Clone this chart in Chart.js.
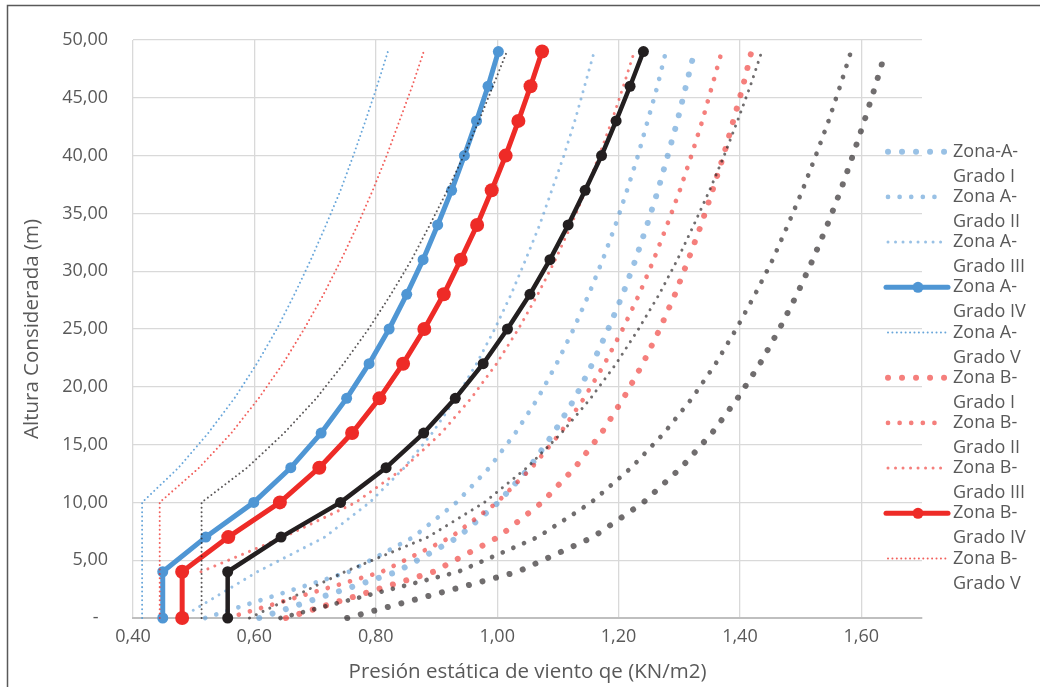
<!DOCTYPE html>
<html>
<head>
    <meta charset="utf-8">
    <title>Presión estática de viento</title>
    <script src="https://cdn.jsdelivr.net/npm/chart.js"></script>
    <style>
        body {
            margin: 0;
            background-color: #fff;
        }
        #chartContainer {
            position: relative;
            width: 1040px;
            height: 687px;
        }
    </style>
</head>
<body>
    <div id="chartContainer">
        <canvas id="vientoChart" width="1040" height="687"></canvas>
    </div>

    <script>
        // Alturas consideradas (m)
        const alturas = [0, 4, 7, 10, 13, 16, 19, 22, 25, 28, 31, 34, 37, 40, 43, 46, 49];
        // la serie Zona B-Grado III arranca en 4 m
        const alturasZonaBGradoIII = [4, 7, 10, 13, 16, 19, 22, 25, 28, 31, 34, 37, 40, 43, 46, 49];

        // Presión estática qe (KN/m2)
        const zonaAGradoI   = [0.608, 0.835, 0.936, 1.002, 1.053, 1.093, 1.128, 1.157, 1.183, 1.207, 1.228, 1.247, 1.265, 1.281, 1.297, 1.311, 1.325];
        const zonaAGradoII  = [0.519, 0.756, 0.862, 0.933, 0.987, 1.030, 1.067, 1.098, 1.126, 1.151, 1.174, 1.195, 1.214, 1.232, 1.248, 1.264, 1.278];
        const zonaAGradoIII = [0.478, 0.605, 0.716, 0.790, 0.847, 0.893, 0.932, 0.966, 0.996, 1.023, 1.047, 1.070, 1.090, 1.110, 1.128, 1.144, 1.160];
        const zonaAGradoIV  = [0.449, 0.449, 0.520, 0.599, 0.660, 0.710, 0.752, 0.789, 0.822, 0.851, 0.878, 0.902, 0.925, 0.946, 0.966, 0.985, 1.002];
        const zonaAGradoV   = [0.415, 0.415, 0.415, 0.415, 0.475, 0.524, 0.567, 0.604, 0.637, 0.666, 0.693, 0.718, 0.742, 0.763, 0.783, 0.802, 0.820];

        const zonaBGradoI   = [0.652, 0.895, 1.002, 1.074, 1.128, 1.172, 1.208, 1.240, 1.268, 1.293, 1.315, 1.336, 1.355, 1.373, 1.389, 1.405, 1.419];
        const zonaBGradoII  = [0.556, 0.810, 0.924, 1.000, 1.057, 1.104, 1.143, 1.177, 1.207, 1.234, 1.258, 1.280, 1.301, 1.320, 1.338, 1.354, 1.370];
        const zonaBGradoIII = [0.512, 0.648, 0.767, 0.847, 0.908, 0.957, 0.999, 1.035, 1.067, 1.096, 1.122, 1.146, 1.168, 1.189, 1.208, 1.226];
        const zonaBGradoIV  = [0.481, 0.481, 0.557, 0.642, 0.707, 0.761, 0.806, 0.845, 0.880, 0.912, 0.940, 0.967, 0.991, 1.014, 1.035, 1.055, 1.074];
        const zonaBGradoV   = [0.444, 0.444, 0.444, 0.444, 0.509, 0.562, 0.607, 0.647, 0.682, 0.714, 0.743, 0.770, 0.795, 0.818, 0.839, 0.860, 0.879];

        const zonaCGradoI   = [0.753, 1.034, 1.158, 1.241, 1.303, 1.354, 1.396, 1.433, 1.465, 1.494, 1.520, 1.544, 1.566, 1.586, 1.605, 1.623, 1.640];
        const zonaCGradoII  = [0.643, 0.936, 1.067, 1.155, 1.221, 1.275, 1.321, 1.360, 1.394, 1.425, 1.454, 1.479, 1.503, 1.525, 1.546, 1.565, 1.583];
        const zonaCGradoIII = [0.592, 0.749, 0.886, 0.979, 1.049, 1.106, 1.154, 1.196, 1.233, 1.267, 1.297, 1.324, 1.350, 1.374, 1.396, 1.417, 1.436];
        const zonaCGradoIV  = [0.556, 0.556, 0.644, 0.742, 0.817, 0.879, 0.931, 0.977, 1.017, 1.054, 1.087, 1.117, 1.145, 1.172, 1.196, 1.219, 1.241];
        const zonaCGradoV   = [0.513, 0.513, 0.513, 0.513, 0.588, 0.649, 0.702, 0.747, 0.788, 0.825, 0.859, 0.889, 0.918, 0.945, 0.970, 0.993, 1.016];

        const xTicks = [0.4, 0.6, 0.8, 1.0, 1.2, 1.4, 1.6];
        const yTicks = [0, 5, 10, 15, 20, 25, 30, 35, 40, 45, 50];

        const FONT = "'Open Sans', 'Noto Sans', sans-serif";
        const GRIS_TEXTO = '#595959';

        // tamaño de punto y paso del punteado por grado
        const estilos = {
            'I':   { width: 6,   period: 14 },
            'II':  { width: 4.7, period: 11.6 },
            'III': { width: 3,   period: 7.5 },
            'V':   { width: 2,   period: 4.4 }
        };

        function puntos(hs, vals) {
            return hs.map(function(h, i) { return { x: vals[i], y: h }; });
        }

        function punteada(label, hs, vals, color, grado) {
            const e = estilos[grado];
            return {
                label: label,
                data: puntos(hs, vals),
                showLine: true,
                borderColor: color,
                backgroundColor: color,
                borderWidth: e.width,
                borderDash: [0.01, e.period],
                borderCapStyle: 'round',
                borderJoinStyle: 'round',
                pointRadius: 0,
                pointHoverRadius: 0,
                tension: 0,
                clip: false,
                grado: grado
            };
        }

        function continua(label, vals, color, ancho, radio) {
            return {
                label: label,
                data: puntos(alturas, vals),
                showLine: true,
                borderColor: color,
                backgroundColor: color,
                borderWidth: ancho,
                borderCapStyle: 'round',
                borderJoinStyle: 'round',
                pointRadius: radio,
                pointHoverRadius: radio,
                pointBorderWidth: 0,
                pointBackgroundColor: color,
                tension: 0,
                clip: false,
                grado: 'IV'
            };
        }

        const azulClaro = 'rgba(91, 155, 213, 0.62)';
        const rojoClaro = 'rgba(238, 42, 36, 0.6)';
        const grisClaro = 'rgba(35, 31, 32, 0.65)';

        const datasets = [
            punteada('Zona-A-Grado I', alturas, zonaAGradoI, azulClaro, 'I'),
            punteada('Zona A-Grado II', alturas, zonaAGradoII, azulClaro, 'II'),
            punteada('Zona A-Grado III', alturas, zonaAGradoIII, azulClaro, 'III'),
            continua('Zona A-Grado IV', zonaAGradoIV, '#4f96d4', 5, 5.5),
            punteada('Zona A-Grado V', alturas, zonaAGradoV, 'rgba(79, 150, 212, 0.85)', 'V'),
            punteada('Zona B-Grado I', alturas, zonaBGradoI, rojoClaro, 'I'),
            punteada('Zona B-Grado II', alturas, zonaBGradoII, rojoClaro, 'II'),
            punteada('Zona B-Grado III', alturasZonaBGradoIII, zonaBGradoIII, rojoClaro, 'III'),
            continua('Zona B-Grado IV', zonaBGradoIV, '#ee2b27', 5, 7),
            punteada('Zona B-Grado V', alturas, zonaBGradoV, 'rgba(238, 42, 36, 0.75)', 'V'),
            punteada('Zona C-Grado I', alturas, zonaCGradoI, grisClaro, 'I'),
            punteada('Zona C-Grado II', alturas, zonaCGradoII, grisClaro, 'II'),
            punteada('Zona C-Grado III', alturas, zonaCGradoIII, grisClaro, 'III'),
            continua('Zona C-Grado IV', zonaCGradoIV, '#231f20', 4.5, 5.5),
            punteada('Zona C-Grado V', alturas, zonaCGradoV, 'rgba(35, 31, 32, 0.75)', 'V')
        ];
        // como en Excel: la última serie queda encima
        datasets.forEach(function(d, i) { d.order = datasets.length - i; });

        function coma(v) {
            return v.toFixed(2).replace('.', ',');
        }

        // leyenda a la derecha, cortada abajo como en el original
        const leyendaLateral = {
            id: 'leyendaLateral',
            afterDraw: function(chart) {
                const ctx = chart.ctx;
                const x0 = chart.width - 154;
                const xTexto = chart.width - 87;
                const limite = chart.height - 82;
                let y = 151.7;
                ctx.save();
                ctx.font = '18px ' + FONT;
                ctx.textBaseline = 'middle';
                ctx.textAlign = 'left';
                chart.data.datasets.forEach(function(ds) {
                    if (y + 25 + 10 > limite) { y += 45.2; return; }
                    ctx.save();
                    ctx.strokeStyle = ds.borderColor;
                    ctx.lineWidth = ds.borderWidth;
                    ctx.lineCap = 'round';
                    ctx.beginPath();
                    if (ds.grado === 'IV') {
                        ctx.setLineDash([]);
                        ctx.moveTo(x0, y);
                        ctx.lineTo(x0 + 62, y);
                        ctx.stroke();
                        ctx.fillStyle = ds.borderColor;
                        ctx.beginPath();
                        ctx.arc(x0 + 32, y, 5.5, 0, Math.PI * 2);
                        ctx.fill();
                    } else {
                        ctx.setLineDash([0.01, ds.borderDash[1]]);
                        ctx.moveTo(x0 + 2, y);
                        ctx.lineTo(x0 + 60, y);
                        ctx.stroke();
                    }
                    ctx.restore();
                    const k = ds.label.indexOf('Grado');
                    ctx.fillStyle = GRIS_TEXTO;
                    ctx.fillText(ds.label.slice(0, k), xTexto, y);
                    ctx.fillText(ds.label.slice(k), xTexto, y + 25);
                    y += 45.2;
                });
                ctx.restore();
            }
        };

        // marco del gráfico
        const marco = {
            id: 'marco',
            afterDraw: function(chart) {
                const ctx = chart.ctx;
                ctx.save();
                ctx.strokeStyle = '#595959';
                ctx.lineWidth = 1.5;
                ctx.strokeRect(7.5, 5.5, chart.width + 20, chart.height + 20);
                ctx.restore();
            }
        };

        Chart.defaults.font.family = FONT;
        Chart.defaults.color = GRIS_TEXTO;

        const ctx = document.getElementById('vientoChart').getContext('2d');
        const vientoChart = new Chart(ctx, {
            type: 'scatter',
            data: { datasets: datasets },
            options: {
                responsive: false,
                animation: false,
                events: [],
                layout: {
                    padding: { top: 40, right: 118, bottom: 0, left: 0 }
                },
                plugins: {
                    legend: { display: false },
                    tooltip: { enabled: false },
                    title: { display: false }
                },
                scales: {
                    x: {
                        type: 'linear',
                        min: 0.4,
                        max: 1.7,
                        afterBuildTicks: function(scale) {
                            scale.ticks = xTicks.map(function(v) { return { value: v }; });
                        },
                        afterFit: function(scale) { scale.height = 69; },
                        ticks: {
                            padding: 8,
                            font: { size: 18 },
                            color: GRIS_TEXTO,
                            maxRotation: 0,
                            callback: function(v) { return coma(v); }
                        },
                        grid: { color: '#d9d9d9', lineWidth: 1.3, drawTicks: false },
                        border: { display: true, color: '#bfbfbf', width: 2 },
                        title: {
                            display: true,
                            text: 'Presión estática de viento qe (KN/m2)',
                            font: { size: 20.5 },
                            color: GRIS_TEXTO,
                            padding: { top: 0, bottom: 3 }
                        }
                    },
                    y: {
                        type: 'linear',
                        min: 0,
                        max: 50,
                        afterBuildTicks: function(scale) {
                            scale.ticks = yTicks.map(function(v) { return { value: v }; });
                        },
                        afterFit: function(scale) { scale.width = 133; },
                        ticks: {
                            padding: 25,
                            font: { size: 18 },
                            color: GRIS_TEXTO,
                            callback: function(v) { return v === 0 ? '-  ' : coma(v); }
                        },
                        grid: { color: '#d9d9d9', lineWidth: 1.3, drawTicks: false },
                        border: { display: false },
                        title: {
                            display: true,
                            text: 'Altura Considerada (m)',
                            font: { size: 20.5 },
                            color: GRIS_TEXTO,
                            padding: { top: 20, bottom: 0 }
                        }
                    }
                }
            },
            plugins: [leyendaLateral, marco]
        });
    </script>
</body>
</html>
